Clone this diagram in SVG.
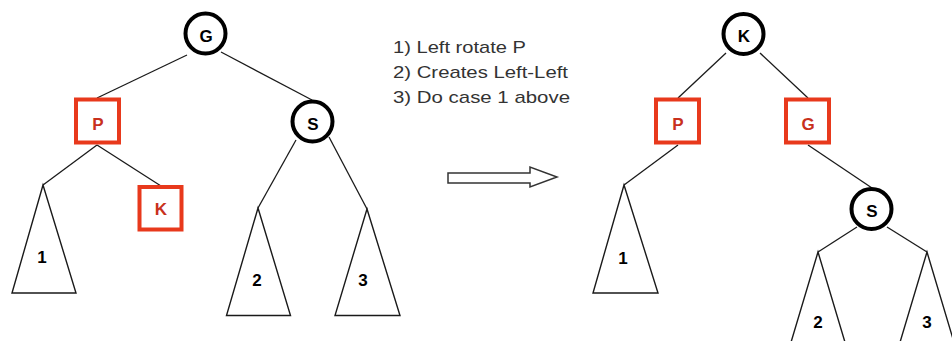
<svg xmlns="http://www.w3.org/2000/svg" width="952" height="341" viewBox="0 0 952 341">
<style>
.blk{fill:#fff;stroke:#000;stroke-width:4}
.red{fill:#fff;stroke:#e8391c;stroke-width:4}
.tri{fill:#fff;stroke:#1a1a1a;stroke-width:1.4;stroke-linejoin:miter}
.edge{stroke:#1a1a1a;stroke-width:1.3;fill:none}
.lb{font-family:"Liberation Sans",Arial,sans-serif;font-weight:bold;font-size:17px;text-anchor:middle;fill:#000}
.lr{fill:#c8301c}
.note{font-family:"Liberation Sans",Arial,sans-serif;font-size:17px;fill:#333}
</style>
<rect width="952" height="341" fill="#fff"/>
<g id="connectors">
<line class="edge" x1="187" y1="55" x2="97" y2="98"/>
<line class="edge" x1="221" y1="52" x2="312" y2="100"/>
<line class="edge" x1="97" y1="145" x2="43" y2="185"/>
<line class="edge" x1="97" y1="145" x2="161" y2="186"/>
<line class="edge" x1="296" y1="140" x2="258" y2="208"/>
<line class="edge" x1="329" y1="137" x2="367" y2="209"/>
<line class="edge" x1="726" y1="53" x2="678" y2="98"/>
<line class="edge" x1="760" y1="53" x2="808" y2="98"/>
<line class="edge" x1="678" y1="145" x2="624" y2="185"/>
<line class="edge" x1="808" y1="145" x2="872" y2="188"/>
<line class="edge" x1="857" y1="227" x2="818" y2="252"/>
<line class="edge" x1="887" y1="227" x2="927" y2="252"/>
<polygon points="448,173 530,173 530,167 557,177 530,187 530,183 448,183" fill="#fff" stroke="#333" stroke-width="1.5"/>
</g>
<g id="nodeG1"><circle class="blk" cx="205.5" cy="33.5" r="20"/><text class="lb" x="206" y="41.5">G</text></g>
<g id="nodeP1"><rect class="red" x="76" y="99.5" width="43" height="43"/><text class="lb lr" x="98" y="129.5">P</text></g>
<g id="nodeS1"><circle class="blk" cx="312.5" cy="121.5" r="20"/><text class="lb" x="313" y="129.5">S</text></g>
<g id="nodeK1"><rect class="red" x="139.5" y="187" width="42" height="42.5"/><text class="lb lr" x="161" y="215">K</text></g>
<g id="sub1a"><polygon class="tri" points="43,185 12,293 76,293"/><text class="lb" x="42" y="263">1</text></g>
<g id="sub2a"><polygon class="tri" points="258,208 226.5,315.5 290.5,315.5"/><text class="lb" x="257" y="286">2</text></g>
<g id="sub3a"><polygon class="tri" points="367,209 335,315.5 400,315.5"/><text class="lb" x="363" y="286">3</text></g>
<g id="note">
<text class="note" x="393" y="53" textLength="133" lengthAdjust="spacingAndGlyphs">1) Left rotate P</text>
<text class="note" x="393" y="78" textLength="175" lengthAdjust="spacingAndGlyphs">2) Creates Left-Left</text>
<text class="note" x="393" y="103" textLength="177" lengthAdjust="spacingAndGlyphs">3) Do case 1 above</text>
</g>
<g id="nodeK2"><circle class="blk" cx="743.5" cy="34" r="20"/><text class="lb" x="744" y="41.5">K</text></g>
<g id="nodeP2"><rect class="red" x="656" y="99.5" width="43" height="43"/><text class="lb lr" x="678" y="129.5">P</text></g>
<g id="nodeG2"><rect class="red" x="786" y="99.5" width="43" height="43"/><text class="lb lr" x="808" y="129.5">G</text></g>
<g id="nodeS2"><circle class="blk" cx="871.5" cy="209" r="20"/><text class="lb" x="872" y="216.5">S</text></g>
<g id="sub1b"><polygon class="tri" points="624,185 593,293 658,293"/><text class="lb" x="623" y="264">1</text></g>
<g id="sub2b"><polygon class="tri" points="818,252 786,359 850,359"/><text class="lb" x="818" y="328">2</text></g>
<g id="sub3b"><polygon class="tri" points="927,252 895,359 959,359"/><text class="lb" x="927" y="328">3</text></g>
</svg>
